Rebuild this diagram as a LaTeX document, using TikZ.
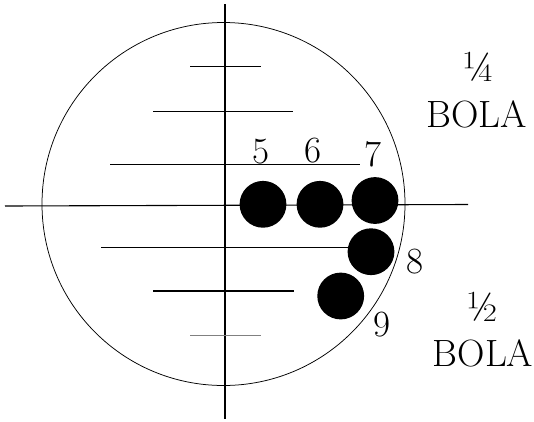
\documentclass[tikz,border=0pt]{standalone}
\usepackage{tikz}

\begin{document}
\begin{tikzpicture}[x=1pt, y=-1pt, line cap=butt,
    rule/.style={line width=0.9pt},
    ball/.style={fill=black},
    num/.style={inner sep=0pt, font=\fontsize{37}{40}\selectfont},
    frac/.style={inner sep=0pt, font=\fontsize{42}{46}\selectfont},
    word/.style={inner sep=0pt, font=\fontsize{38}{40}\selectfont}]
    \useasboundingbox (0,0) rectangle (534,421);

    \coordinate (C) at (223.5,204);

    \draw[line width=0.75pt] (C) circle [radius=181.5pt];

    % axes
    \draw[line width=1.2pt] (225,4) -- (225,419);
    \draw[line width=1.1pt] (5,206) -- (468,204.5);

    % scale lines
    \draw[rule] (190,66) -- (261,66);
    \draw[rule] (153,111) -- (293,111);
    \draw[rule] (110,164.5) -- (360,164.5);
    \draw[rule] (101,247) -- (348,247);
    \draw[line width=1.5pt] (153,291) -- (294,291);
    \draw[rule, gray] (190,335) -- (261,335);

    % balls
    \fill[ball] (263,204.3) circle [radius=23.4pt];
    \fill[ball] (320,204.3) circle [radius=23.4pt];
    \fill[ball] (375,200.5) circle [radius=23.4pt];
    \fill[ball] (371,251.7) circle [radius=23.4pt];
    \fill[ball] (340.7,296) circle [radius=23.4pt];

    \node[num] (n5) at (261,152) {5};
    \node[num] (n6) at (313,151) {6};
    \node[num] (n7) at (373,154) {7};
    \node[num] (n8) at (415,262) {8};
    \node[num] (n9) at (382,325) {9};

    \node[frac] (q1) at (479,67) {¼};
    \node[word] (w1) at (476.5,114) {BOLA};
    \node[frac] (q2) at (483,307) {½};
    \node[word] (w2) at (483,353) {BOLA};
\end{tikzpicture}
\end{document}
